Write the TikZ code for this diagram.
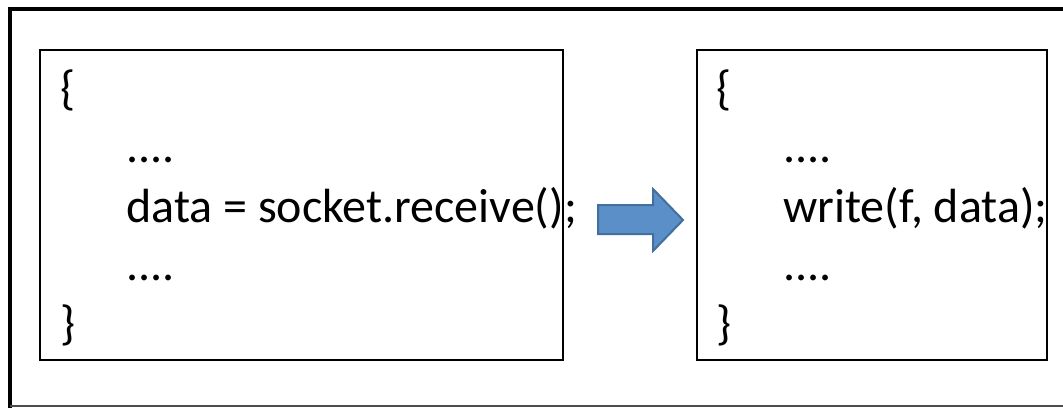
\documentclass[tikz,border=0pt]{standalone}
\usepackage{fontspec}
\setmainfont{Carlito}
\definecolor{arrowfill}{HTML}{5B8FC8}
\definecolor{arrowline}{HTML}{41709E}
\begin{document}
\begin{tikzpicture}[x=0.75pt,y=-0.75pt,
  frame/.style={line width=3pt,black},
  boxline/.style={line width=1.5pt,black},
  code/.style={anchor=base west,inner sep=0pt,font=\fontsize{36}{42}\selectfont},
  blockarrow/.style={fill=arrowfill,draw=arrowline,line width=1.5pt,line join=miter}]
\useasboundingbox (0,0) rectangle (1063,407);
% outer frame
\draw[frame] (1070,9) -- (10,9) -- (10,410);
\draw[line width=0.8pt,black!70] (10,406) -- (1070,406);
% left code block
\node[code] (l1) at (60,104) {\{};
\node[code] (l2) at (126,162) {....};
\node[code] (l3) at (126,222) {data = socket.receive();};
\node[code] (l4) at (126,280) {....};
\node[code] (l5) at (60,339) {\}};
% right code block
\node[code] (r1) at (716,104) {\{};
\node[code] (r2) at (783,162) {....};
\node[code] (r3) at (783,222) {write(f, data);};
\node[code] (r4) at (783,280) {....};
\node[code] (r5) at (716,339) {\}};
% code boxes, drawn over the text
\draw[boxline] (40,50) rectangle (563,360);
\draw[boxline] (697,50) rectangle (1047,360);
% block arrow between the two blocks
\draw[blockarrow] (598,205) -- (653,205) -- (653,189) -- (683,220) -- (653,251) -- (653,234) -- (598,234) -- cycle;
\end{tikzpicture}
\end{document}
